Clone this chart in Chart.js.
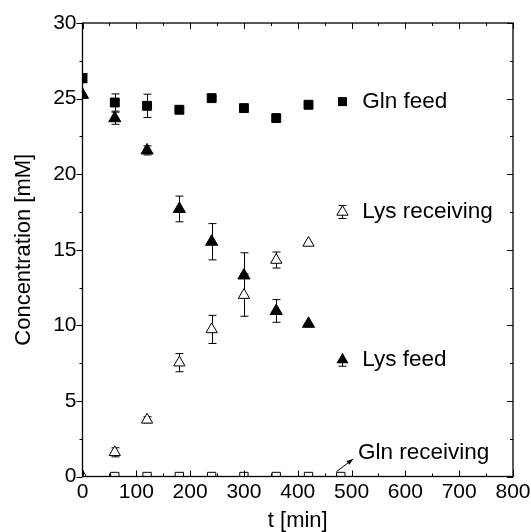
<!DOCTYPE html>
<html>
<head>
<meta charset="utf-8">
<script src="https://cdn.jsdelivr.net/npm/chart.js@4.4.1/dist/chart.umd.min.js"></script>
<style>
html, body { margin: 0; padding: 0; background: #fff; }
</style>
</head>
<body>
<canvas id="myChart" width="531" height="532"></canvas>
<script>
// sampling times [min]
var times = [0, 60, 120, 180, 240, 300, 360, 420];
var glnRecvTimes = [60, 120, 180, 240, 300, 360, 420, 480];

// concentrations [mM] and their error bars
var glnFeed = [26.35, 24.74, 24.52, 24.26, 25.03, 24.37, 23.71, 24.59];
var glnFeedErr = [0.3, 0.57, 0.77, 0, 0.1, 0, 0, 0];
var lysFeed = [25.25, 23.7, 21.57, 17.7, 15.53, 13.3, 10.95, 10.1];
var lysFeedErr = [0, 0.4, 0.3, 0.85, 1.2, 1.5, 0.75, 0];
var lysRecv = [0, 1.6, 3.75, 7.53, 9.73, 12.0, 14.32, 15.45];
var lysRecvErr = [0, 0.3, 0.2, 0.6, 0.93, 1.4, 0.53, 0];
var glnRecv = [0, 0, 0, 0, 0, 0, 0, 0];

var xTicks = [0, 100, 200, 300, 400, 500, 600, 700, 800];
var yTicks = [0, 5, 10, 15, 20, 25, 30];

function toPoints(xs, ys, errs) {
    return xs.map(function (x, i) {
        return { x: x, y: ys[i], err: errs ? errs[i] : 0 };
    });
}

// labels written inside the plot (origin style legend)
var labelItems = [
    { text: 'Gln feed', t: 482, y: 24.8, marker: 'square', err: 0 },
    { text: 'Lys receiving', t: 482, y: 17.5, marker: 'openTri', err: 0.3 },
    { text: 'Lys feed', t: 482, y: 7.73, marker: 'tri', err: 0.3 }
];

var errorBars = {
    id: 'errorBars',
    beforeDatasetsDraw: function (chart) {
        var ctx = chart.ctx, xs = chart.scales.x, ys = chart.scales.y;
        var a = chart.chartArea;
        ctx.save();
        ctx.beginPath();
        ctx.rect(a.left, a.top, a.right - a.left, a.bottom - a.top);
        ctx.clip();
        ctx.strokeStyle = '#000';
        ctx.lineWidth = 1;
        chart.data.datasets.forEach(function (ds) {
            ds.data.forEach(function (p) {
                if (!p.err) return;
                var px = Math.round(xs.getPixelForValue(p.x)) + 0.5;
                var top = ys.getPixelForValue(p.y + p.err);
                var bot = ys.getPixelForValue(p.y - p.err);
                ctx.beginPath();
                ctx.moveTo(px, top); ctx.lineTo(px, bot);
                ctx.moveTo(px - 4, top); ctx.lineTo(px + 4, top);
                ctx.moveTo(px - 4, bot); ctx.lineTo(px + 4, bot);
                ctx.stroke();
            });
        });
        ctx.restore();
    }
};

var frameAndLabels = {
    id: 'frameAndLabels',
    afterDraw: function (chart) {
        var ctx = chart.ctx, xs = chart.scales.x, ys = chart.scales.y;
        var a = chart.chartArea;
        ctx.save();
        ctx.strokeStyle = '#000';
        ctx.lineWidth = 1.3;
        ctx.strokeRect(a.left, a.top, a.right - a.left, a.bottom - a.top);
        ctx.lineWidth = 1;
        ctx.beginPath();
        // x ticks, inward on bottom and top
        for (var v = 0; v <= 800; v += 50) {
            var px = Math.round(xs.getPixelForValue(v)) + 0.5;
            var len = v % 100 === 0 ? 6 : 3;
            ctx.moveTo(px, a.bottom); ctx.lineTo(px, a.bottom - len);
            ctx.moveTo(px, a.top); ctx.lineTo(px, a.top + len);
        }
        // y ticks, outward on left, inward on right
        for (var w = 0; w <= 30; w += 2.5) {
            var py = Math.round(ys.getPixelForValue(w)) + 0.5;
            var l2 = w % 5 === 0 ? 6 : 3;
            ctx.moveTo(a.left, py); ctx.lineTo(a.left - l2, py);
            ctx.moveTo(a.right, py); ctx.lineTo(a.right - l2, py);
        }
        ctx.stroke();

        // in-plot labels with their markers
        ctx.font = '22.5px "Liberation Sans", Arial, sans-serif';
        ctx.fillStyle = '#000';
        ctx.textBaseline = 'middle';
        labelItems.forEach(function (it) {
            var mx = Math.round(xs.getPixelForValue(it.t)) + 0.5;
            var my = ys.getPixelForValue(it.y);
            if (it.err) {
                var t1 = ys.getPixelForValue(it.y + it.err), b1 = ys.getPixelForValue(it.y - it.err);
                ctx.beginPath();
                ctx.moveTo(mx, t1 - 2); ctx.lineTo(mx, b1 + 2);
                ctx.moveTo(mx - 4, b1 + 2); ctx.lineTo(mx + 4, b1 + 2);
                if (it.marker === 'openTri') { ctx.moveTo(mx - 4, t1 - 2); ctx.lineTo(mx + 4, t1 - 2); }
                ctx.stroke();
            }
            ctx.beginPath();
            if (it.marker === 'square') {
                ctx.rect(mx - 4.5, my - 4.5, 9, 9);
                ctx.fill();
            } else {
                var r = it.marker === 'tri' ? 7 : 6.5;
                ctx.moveTo(mx, my - r);
                ctx.lineTo(mx + r * 0.866, my + r / 2);
                ctx.lineTo(mx - r * 0.866, my + r / 2);
                ctx.closePath();
                if (it.marker === 'tri') { ctx.fill(); }
                else { ctx.fillStyle = '#fff'; ctx.fill(); ctx.fillStyle = '#000'; ctx.stroke(); }
            }
            ctx.fillText(it.text, xs.getPixelForValue(520), my);
        });

        // Gln receiving label with its arrow
        var ax0 = xs.getPixelForValue(472), ay0 = ys.getPixelForValue(0.32);
        var ax1 = xs.getPixelForValue(503), ay1 = ys.getPixelForValue(1.16);
        ctx.beginPath();
        ctx.moveTo(ax0, ay0); ctx.lineTo(ax1, ay1);
        ctx.stroke();
        var ang = Math.atan2(ay1 - ay0, ax1 - ax0);
        ctx.beginPath();
        ctx.moveTo(ax1, ay1);
        ctx.lineTo(ax1 - 7 * Math.cos(ang - 0.35), ay1 - 7 * Math.sin(ang - 0.35));
        ctx.lineTo(ax1 - 7 * Math.cos(ang + 0.35), ay1 - 7 * Math.sin(ang + 0.35));
        ctx.closePath();
        ctx.fill();
        ctx.fillText('Gln receiving', xs.getPixelForValue(512), ys.getPixelForValue(1.6));
        ctx.restore();
    }
};

var ctx = document.getElementById('myChart').getContext('2d');
var myChart = new Chart(ctx, {
    type: 'scatter',
    data: {
        datasets: [
            {
                label: 'Gln receiving',
                data: toPoints(glnRecvTimes, glnRecv),
                pointStyle: 'rect', pointRadius: 5.9,
                backgroundColor: '#fff', borderColor: '#000', borderWidth: 1
            },
            {
                label: 'Lys receiving',
                data: toPoints(times, lysRecv, lysRecvErr),
                pointStyle: 'triangle', pointRadius: 6.5,
                backgroundColor: '#fff', borderColor: '#000', borderWidth: 1
            },
            {
                label: 'Lys feed',
                data: toPoints(times, lysFeed, lysFeedErr),
                pointStyle: 'triangle', pointRadius: 7,
                backgroundColor: '#000', borderColor: '#000', borderWidth: 1
            },
            {
                label: 'Gln feed',
                data: toPoints(times, glnFeed, glnFeedErr),
                pointStyle: 'rect', pointRadius: 6.3,
                backgroundColor: '#000', borderColor: '#000', borderWidth: 1
            }
        ]
    },
    options: {
        responsive: false,
        animation: false,
        devicePixelRatio: 1,
        layout: { padding: { top: 23, right: 18, left: 0, bottom: 0 } },
        plugins: { legend: { display: false }, tooltip: { enabled: false } },
        scales: {
            x: {
                type: 'linear', min: 0, max: 800,
                afterBuildTicks: function (s) { s.ticks = xTicks.map(function (v) { return { value: v }; }); },
                afterFit: function (s) { s.height = 55.5; s.paddingLeft = 0; s.paddingRight = 0; },
                grid: { display: false, drawTicks: false },
                border: { display: false },
                ticks: { color: '#000', padding: 3, maxRotation: 0, font: { family: '"Liberation Sans", Arial', size: 21 } },
                title: { display: true, text: 't [min]', color: '#000', padding: { top: 0, bottom: -2 }, font: { family: '"Liberation Sans", Arial', size: 22 } }
            },
            y: {
                type: 'linear', min: 0, max: 30,
                afterBuildTicks: function (s) { s.ticks = yTicks.map(function (v) { return { value: v }; }); },
                afterFit: function (s) { s.width = 82.5; },
                grid: { display: false, drawTicks: false },
                border: { display: false },
                ticks: { color: '#000', padding: 6, font: { family: '"Liberation Sans", Arial', size: 21 } },
                title: { display: true, text: 'Concentration [mM]', color: '#000', padding: { top: 11, bottom: 0 }, font: { family: '"Liberation Sans", Arial', size: 22 } }
            }
        }
    },
    plugins: [errorBars, frameAndLabels]
});
</script>
</body>
</html>
